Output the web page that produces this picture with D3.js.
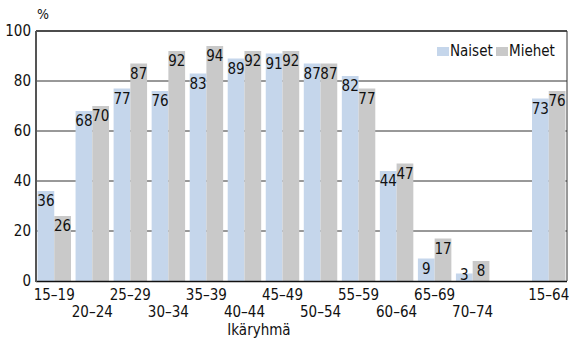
<!DOCTYPE html>
<html><head><meta charset="utf-8">
<script src="https://cdn.jsdelivr.net/npm/d3@7"></script>
<style>
body{margin:0;background:#fff;}
text{font-family:"Liberation Sans Narrow","DejaVu Sans Condensed",sans-serif;fill:#111;}
</style></head>
<body><svg id="c" width="569" height="339"></svg>
<script>
const categories = ["15–19","20–24","25–29","30–34","35–39","40–44","45–49","50–54","55–59","60–64","65–69","70–74","","15–64"];
const naiset = [36,68,77,76,83,89,91,87,82,44,9,3,null,73];
const miehet = [26,70,87,92,94,92,92,87,77,47,17,8,null,76];
const yTicks = [0,20,40,60,80,100];
const seriesNames = ["Naiset","Miehet"];
const colors = ["#c5d6eb","#c9c9c9"];

const svg = d3.select("#c");
const L=36, R=567, T=31, B=281;
const x = d3.scaleBand().domain(d3.range(categories.length)).range([L,R]).paddingInner(0.12).paddingOuter(0.04);
const y = d3.scaleLinear().domain([0,100]).range([B,T]);
const xs = d3.scaleBand().domain([0,1]).range([0,x.bandwidth()]);

// gridlines
svg.append("g").selectAll("line").data(yTicks.filter(d=>d>0)).join("line")
  .attr("x1",L).attr("x2",R).attr("y1",d=>y(d)).attr("y2",d=>y(d))
  .attr("stroke",d=>d===100?"#111":"#333").attr("stroke-width",d=>d===100?1.5:1);
// right border
svg.append("line").attr("x1",R).attr("x2",R).attr("y1",T).attr("y2",B).attr("stroke","#333").attr("stroke-width",1);

// y tick labels
svg.append("g").selectAll("text").data(yTicks).join("text")
  .attr("x",31).attr("y",d=>y(d)).attr("dy","0.36em").attr("text-anchor","end")
  .attr("font-size",15).text(d=>d);
svg.append("text").attr("x",37).attr("y",19).attr("font-size",14).text("%");

const series=[naiset,miehet];
const barData=[];
series.forEach((s,si)=>s.forEach((v,i)=>{ if(v!=null) barData.push({i,si,v}); }));

// bars
svg.append("g").selectAll("rect").data(barData).join("rect")
  .attr("x",d=>x(d.i)+xs(d.si)).attr("width",xs.bandwidth())
  .attr("y",d=>y(d.v)).attr("height",d=>B-y(d.v))
  .attr("fill",d=>colors[d.si]);

// value labels
svg.append("g").selectAll("text").data(barData).join("text")
  .attr("x",d=>x(d.i)+xs(d.si)+xs.bandwidth()/2).attr("text-anchor","middle")
  .attr("y",d=>Math.min(y(d.v)+15,280)).attr("font-size",15).text(d=>d.v);

// axes lines
svg.append("line").attr("x1",L).attr("x2",R).attr("y1",B+0.5).attr("y2",B+0.5).attr("stroke","#111").attr("stroke-width",1.5);
svg.append("line").attr("x1",L).attr("x2",L).attr("y1",T).attr("y2",B+1).attr("stroke","#555").attr("stroke-width",2);

// x labels
svg.append("g").selectAll("text").data(categories.map((c,i)=>({c,i})).filter(d=>d.c)).join("text")
  .attr("x",d=>x(d.i)+x.bandwidth()/2).attr("text-anchor","middle")
  .attr("y",d=>d.i===13?300:(d.i%2===0?300:317)).attr("font-size",15).text(d=>d.c);
svg.append("text").attr("x",259).attr("y",335).attr("text-anchor","middle").attr("font-size",15).text("Ikäryhmä");

// legend
const lg = svg.append("g");
const lx=[437,496];
seriesNames.forEach((n,i)=>{
  lg.append("rect").attr("x",lx[i]).attr("y",47).attr("width",12).attr("height",9).attr("fill",colors[i]);
  lg.append("text").attr("x",lx[i]+13).attr("y",56).attr("font-size",15).text(n);
});
</script></body></html>
